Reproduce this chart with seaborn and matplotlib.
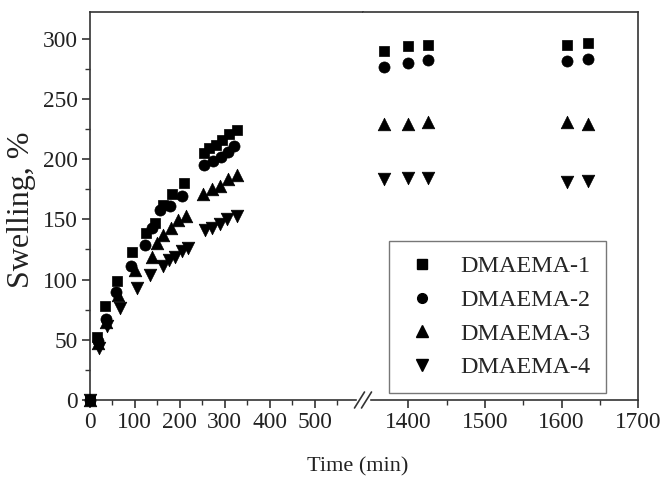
import matplotlib
matplotlib.use("Agg")
import matplotlib.pyplot as plt
from matplotlib.ticker import MultipleLocator, FixedLocator
import seaborn as sns
import pandas as pd

# ---------------- data ----------------
series_names = ["DMAEMA-1", "DMAEMA-2", "DMAEMA-3", "DMAEMA-4"]

t1 = [0, 15, 33, 60, 93, 125, 145, 163, 182, 209, 254, 264, 280, 295, 310, 327, 1368, 1400, 1426, 1607, 1634]
y1 = [0, 52, 78, 99, 123, 139, 147, 162, 171, 180, 205, 209, 212, 216, 221, 224, 290, 294, 295, 295, 296]

t2 = [0, 17, 35, 59, 91, 122, 137, 156, 178, 204, 254, 273, 292, 307, 321, 1368, 1400, 1426, 1607, 1634]
y2 = [0, 49, 67, 90, 111, 129, 143, 158, 161, 169, 195, 198, 202, 206, 211, 276, 280, 282, 281, 283]

t3 = [0, 17, 35, 62, 100, 137, 150, 163, 181, 197, 214, 252, 271, 290, 308, 328, 1368, 1400, 1426, 1607, 1634]
y3 = [0, 47, 65, 87, 108, 119, 130, 137, 143, 149, 153, 171, 175, 178, 183, 187, 229, 229, 231, 231, 229]

t4 = [0, 20, 37, 67, 104, 134, 163, 175, 189, 204, 219, 256, 271, 290, 306, 327, 1368, 1400, 1426, 1607, 1634]
y4 = [0, 43, 61, 76, 93, 104, 111, 116, 119, 124, 126, 141, 143, 146, 150, 153, 183, 184, 184, 181, 182]

x_ticks_left = [0, 100, 200, 300, 400, 500]
x_ticks_right = [1400, 1500, 1600, 1700]
y_ticks = [0, 50, 100, 150, 200, 250, 300]

frames = []
for name, t, y in zip(series_names, [t1, t2, t3, t4], [y1, y2, y3, y4]):
    frames.append(pd.DataFrame({"Time": t, "Swelling": y, "Sample": name}))
df = pd.concat(frames, ignore_index=True)

# ---------------- style ----------------
sns.set_theme(style="ticks")
plt.rcParams["font.family"] = ["Liberation Serif", "DejaVu Serif"]

W, H = 665, 478
fig = plt.figure(figsize=(W / 100, H / 100), dpi=100)

L, R, T, B, BRK = 90, 638.3, 12, 400, 363
ax1 = fig.add_axes([L / W, 1 - B / H, (BRK - L) / W, (B - T) / H])
ax2 = fig.add_axes([BRK / W, 1 - B / H, (R - BRK) / W, (B - T) / H], sharey=ax1)

markers = {"DMAEMA-1": "s", "DMAEMA-2": "o", "DMAEMA-3": "^", "DMAEMA-4": "v"}
sizes = {"DMAEMA-1": 60, "DMAEMA-2": 64, "DMAEMA-3": 82, "DMAEMA-4": 82}

for ax in (ax1, ax2):
    for name in series_names:
        sub = df[df["Sample"] == name]
        sns.scatterplot(data=sub, x="Time", y="Swelling", marker=markers[name],
                        color="black", s=sizes[name], edgecolor="black", linewidth=0.5,
                        ax=ax, clip_on=False, zorder=3, legend=False)

ax1.set_xlim(0, 608)
ax2.set_xlim(1341, 1700)
ax1.set_ylim(0, 322)

spine_col = "#333333"
for ax in (ax1, ax2):
    for s in ax.spines.values():
        s.set_color(spine_col)
        s.set_linewidth(1.2)
    ax.set_xlabel("")
    ax.set_ylabel("")
    ax.tick_params(axis="both", which="major", direction="out", length=6, width=1.2,
                   color=spine_col, labelsize=16.8, labelcolor="#222222", pad=3)
    ax.tick_params(axis="both", which="minor", direction="out", length=3.5, width=1.0,
                   color=spine_col)
    ax.tick_params(top=False, right=False, which="both")

ax1.spines["right"].set_visible(False)
ax2.spines["left"].set_visible(False)
ax2.tick_params(axis="y", which="both", left=False, labelleft=False)

ax1.xaxis.set_major_locator(FixedLocator(x_ticks_left))
ax1.xaxis.set_minor_locator(FixedLocator([50, 150, 250, 350, 450, 550]))
ax2.xaxis.set_major_locator(FixedLocator(x_ticks_right))
ax2.xaxis.set_minor_locator(FixedLocator([1450, 1550, 1650]))
ax1.yaxis.set_major_locator(FixedLocator(y_ticks))
ax1.yaxis.set_minor_locator(MultipleLocator(25))

# break marks on bottom axis
bx = BRK / W
by = 1 - B / H
dx, dy = 5 / W, 8 / H
fig.patches.append(plt.Rectangle((bx - 6 / W, by - 2 / H), 12 / W, 4 / H,
                                 transform=fig.transFigure, color="white", zorder=5))
for off in (-3.5 / W, 3.5 / W):
    fig.lines.append(plt.Line2D([bx + off - dx, bx + off + dx], [by - dy, by + dy],
                                transform=fig.transFigure, color=spine_col, lw=1.2, zorder=6))

# labels
fig.text((L + R) / 2 / W - 6 / W, 1 - 467 / H, "Time (min)", ha="center", va="center",
         fontsize=16, color="#222222")
fig.text(22 / W, 1 - 210 / H, "Swelling, %", ha="center", va="center",
         rotation=90, fontsize=23, color="#222222")

# legend
handles = [plt.Line2D([], [], linestyle="none", marker=markers[n], color="black",
                      markersize=7.0 if markers[n] in ("s", "o") else 8.5) for n in series_names]
leg = ax2.legend(handles, series_names, loc="lower left",
                 bbox_to_anchor=((389 - BRK) / (R - BRK), (B - 393) / (B - T)),
                 frameon=True, fancybox=False, edgecolor="#555555", fontsize=17.4,
                 handlelength=1.5, handletextpad=0.85, labelspacing=0.48,
                 borderpad=0.62, borderaxespad=0.0)
leg.get_frame().set_linewidth(1.0)

fig.savefig("out.png", dpi=100, facecolor="white")
